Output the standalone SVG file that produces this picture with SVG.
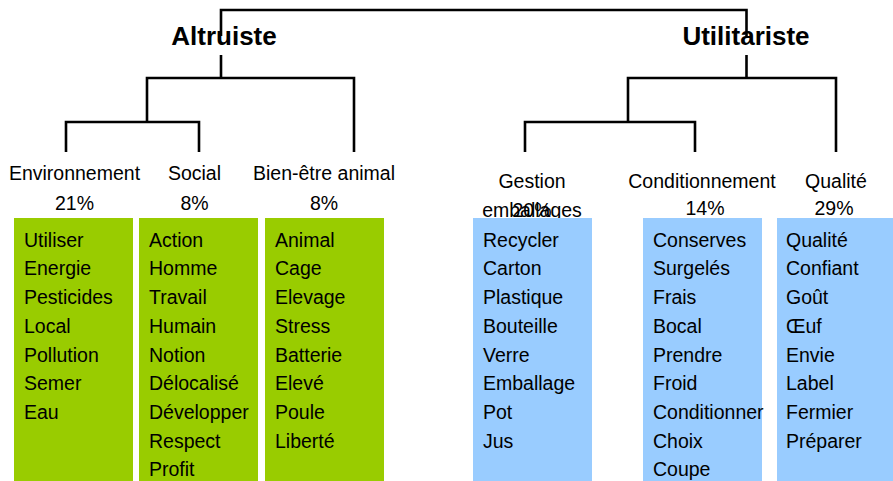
<svg xmlns="http://www.w3.org/2000/svg" width="893" height="481" viewBox="0 0 893 481">
<style>
text{font-family:"Liberation Sans",Arial,sans-serif;fill:#000}
.title{font-size:26px;font-weight:bold;text-anchor:middle}
.cat{font-size:19.5px;text-anchor:middle}
.item{font-size:19.5px}
.green{fill:#99cc00}
.blue{fill:#99ccff}
.line{fill:none;stroke:#000;stroke-width:2.6}
</style>
<rect width="893" height="481" fill="#fff"/>
<g id="connectors">
<path class="line" d="M221,36 V10 H746.5 V37"/>
<path class="line" d="M221,55 V78 M147,121 V78 H354 V152 M66,152 V122 H199 V152"/>
<path class="line" d="M746.5,55 V78 M628,122 V78 H836 V152 M525,152 V122 H695 V152"/>
</g>
<g id="altruiste"><text class="title" x="224" y="45">Altruiste</text></g>
<g id="utilitariste"><text class="title" x="746" y="45">Utilitariste</text></g>
<g id="environnement">
<text class="cat" x="74.5" y="180">Environnement</text>
<text class="cat" x="74.5" y="210">21%</text>
<rect class="green" x="14" y="218" width="119" height="263"/>
<text class="item" x="24"><tspan x="24" y="246.7">Utiliser</tspan><tspan x="24" y="275.4">Energie</tspan><tspan x="24" y="304">Pesticides</tspan><tspan x="24" y="332.8">Local</tspan><tspan x="24" y="361.5">Pollution</tspan><tspan x="24" y="390.2">Semer</tspan><tspan x="24" y="419">Eau</tspan></text>
</g>
<g id="social">
<text class="cat" x="194.5" y="180">Social</text>
<text class="cat" x="194.5" y="210">8%</text>
<rect class="green" x="139" y="218" width="119" height="263"/>
<text class="item"><tspan x="149" y="246.7">Action</tspan><tspan x="149" y="275.4">Homme</tspan><tspan x="149" y="304">Travail</tspan><tspan x="149" y="332.8">Humain</tspan><tspan x="149" y="361.5">Notion</tspan><tspan x="149" y="390.2">Délocalisé</tspan><tspan x="149" y="419">Développer</tspan><tspan x="149" y="447.7">Respect</tspan><tspan x="149" y="476.3">Profit</tspan></text>
</g>
<g id="bien-etre">
<text class="cat" x="324" y="180">Bien-être animal</text>
<text class="cat" x="324" y="210">8%</text>
<rect class="green" x="265" y="218" width="119" height="263"/>
<text class="item"><tspan x="275" y="246.7">Animal</tspan><tspan x="275" y="275.4">Cage</tspan><tspan x="275" y="304">Elevage</tspan><tspan x="275" y="332.8">Stress</tspan><tspan x="275" y="361.5">Batterie</tspan><tspan x="275" y="390.2">Elevé</tspan><tspan x="275" y="419">Poule</tspan><tspan x="275" y="447.7">Liberté</tspan></text>
</g>
<g id="gestion">
<text class="cat" x="532" y="188">Gestion</text>
<text class="cat" x="532" y="217">emballages</text>
<text class="cat" x="532" y="217">20%</text>
<rect class="blue" x="473" y="218" width="119" height="263"/>
<text class="item"><tspan x="483" y="246.7">Recycler</tspan><tspan x="483" y="275.4">Carton</tspan><tspan x="483" y="304">Plastique</tspan><tspan x="483" y="332.8">Bouteille</tspan><tspan x="483" y="361.5">Verre</tspan><tspan x="483" y="390.2">Emballage</tspan><tspan x="483" y="419">Pot</tspan><tspan x="483" y="447.7">Jus</tspan></text>
</g>
<g id="conditionnement">
<text class="cat" x="702" y="188">Conditionnement</text>
<text class="cat" x="705" y="215">14%</text>
<rect class="blue" x="643" y="218" width="119" height="263"/>
<text class="item"><tspan x="653" y="246.7">Conserves</tspan><tspan x="653" y="275.4">Surgelés</tspan><tspan x="653" y="304">Frais</tspan><tspan x="653" y="332.8">Bocal</tspan><tspan x="653" y="361.5">Prendre</tspan><tspan x="653" y="390.2">Froid</tspan><tspan x="653" y="419">Conditionner</tspan><tspan x="653" y="447.7">Choix</tspan><tspan x="653" y="476.3">Coupe</tspan></text>
</g>
<g id="qualite">
<text class="cat" x="836" y="188">Qualité</text>
<text class="cat" x="834" y="215">29%</text>
<rect class="blue" x="777" y="218" width="116" height="263"/>
<text class="item"><tspan x="786" y="246.7">Qualité</tspan><tspan x="786" y="275.4">Confiant</tspan><tspan x="786" y="304">Goût</tspan><tspan x="786" y="332.8">Œuf</tspan><tspan x="786" y="361.5">Envie</tspan><tspan x="786" y="390.2">Label</tspan><tspan x="786" y="419">Fermier</tspan><tspan x="786" y="447.7">Préparer</tspan></text>
</g>
</svg>
